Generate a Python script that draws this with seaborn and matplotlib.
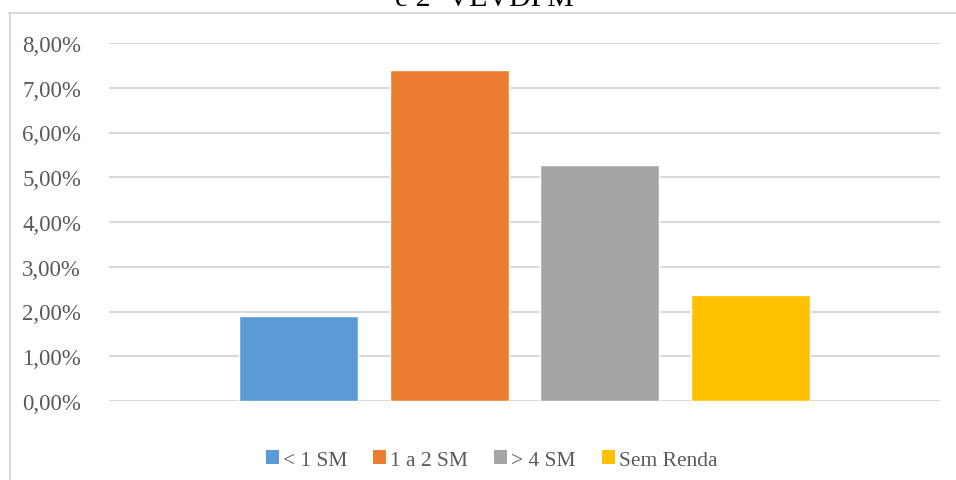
import matplotlib
matplotlib.use("Agg")
import matplotlib.pyplot as plt
import matplotlib.patches as mpatches
from matplotlib.lines import Line2D
from matplotlib.ticker import FuncFormatter, MultipleLocator
import seaborn as sns
import pandas as pd

# Income groups and their share (%)
categories = ["< 1 SM", "1 a 2 SM", "> 4 SM", "Sem Renda"]
values = [1.90, 7.40, 5.27, 2.37]
colors = ["#5B9BD5", "#ED7D31", "#A5A5A5", "#FFC000"]
title_text = "e 2- VEVDPM"

sns.set_theme(style="white")
plt.rcParams["font.family"] = ["Liberation Serif", "DejaVu Serif"]

W, H = 956, 481
fig = plt.figure(figsize=(W / 100, H / 100), dpi=100)

# Axes placed in pixel terms
left, right, bottom, top = 109, 940, 402, 44
ax = fig.add_axes([left / W, 1 - bottom / H, (right - left) / W, (bottom - top) / H])

df = pd.DataFrame({"grupo": categories, "valor": values})
sns.barplot(data=df, x="grupo", y="valor", hue="grupo", palette=colors,
            width=119 / 151, legend=False, saturation=1, ax=ax, zorder=3)

ax.set_xlim(-1.255, 4.255)
ax.set_ylim(0, 8)
ax.yaxis.set_major_locator(MultipleLocator(1))
ax.yaxis.set_major_formatter(FuncFormatter(lambda v, _: f"{v:.2f}".replace(".", ",") + "%"))
ax.set_xticks([])
ax.set_xlabel("")
ax.set_ylabel("")
ax.grid(axis="y", color="#D9D9D9", linewidth=1.5, zorder=0)
ax.set_axisbelow(True)
for s in ax.spines.values():
    s.set_visible(False)
ax.tick_params(axis="y", length=0, pad=20, labelsize=16.5, labelcolor="#595959")

# Chart frame (top and left edges)
fig.add_artist(Line2D([9 / W, 1.0], [1 - 14 / H, 1 - 14 / H], transform=fig.transFigure,
                      color="#D9D9D9", linewidth=1.5))
fig.add_artist(Line2D([9.5 / W, 9.5 / W], [0.0, 1 - 14 / H], transform=fig.transFigure,
                      color="#D9D9D9", linewidth=1.5))

# Title
fig.text(395 / W, 1 - 6 / H, title_text, ha="left", va="baseline",
         fontsize=21.5, color="black")

# Legend
handles = [mpatches.Patch(facecolor=c, edgecolor="none", label=l) for c, l in zip(colors, categories)]
fig.legend(handles=handles, loc="center", bbox_to_anchor=(491.5 / W, 1 - 461 / H), ncol=4,
           frameon=False, fontsize=15.5, handlelength=0.6, handleheight=0.6,
           handletextpad=0.2, columnspacing=1.2, labelcolor="#595959")

fig.savefig("out.png", dpi=100)
